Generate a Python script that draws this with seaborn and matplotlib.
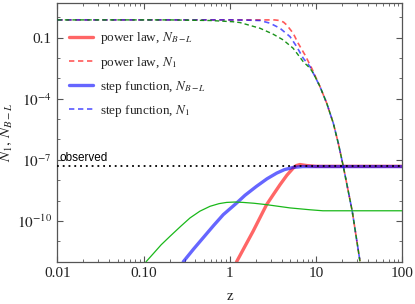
import numpy as np
import pandas as pd
import matplotlib
matplotlib.use("Agg")
import matplotlib.pyplot as plt
import seaborn as sns
from matplotlib.ticker import FixedLocator, FixedFormatter, NullFormatter

# ---------------- data ----------------
# common Boltzmann-suppressed tail of the N1 curves
z_tail = [9.3, 11.1, 13.3, 15.85, 18.1, 20.7, 26.3, 32.3]
logN_tail = [-2.75, -3.40, -4.22, -5.20, -6.18, -7.32, -9.53, -11.98]

# power law, N1 (red dashed)
z_pl_n1 = [0.01, 1.0, 3.3, 3.8, 4.2, 4.57, 5.42, 6.19, 7.44, 8.9]
logN_pl_n1 = [-0.13, -0.13, -0.13, -0.16, -0.24, -0.38, -0.78, -1.27, -1.85, -2.50]

# step function, N1 (blue dashed)
z_sf_n1 = [0.01, 1.0, 1.6, 2.24, 2.92, 3.82, 4.99, 5.96, 7.1, 8.5]
logN_sf_n1 = [-0.13, -0.13, -0.14, -0.16, -0.29, -0.54, -0.95, -1.44, -2.01, -2.42]

# third model, N1 (green dashed)
z_g_n1 = [0.01, 0.2, 0.6, 1.09, 1.31, 2.24, 3.18, 4.15, 5.42, 7.1, 8.5]
logN_g_n1 = [-0.13, -0.13, -0.16, -0.22, -0.26, -0.54, -0.83, -1.11, -1.52, -2.18, -2.50]

# power law, N_{B-L} (red solid)
z_pl_bl = [1.2, 1.5, 1.86, 2.67, 3.2, 3.82, 4.6, 5.45, 5.9, 6.5, 7.78, 10.0, 100.0]
logN_pl_bl = [-12.0, -11.24, -10.51, -9.20, -8.70, -8.22, -7.75, -7.40, -7.28, -7.23, -7.28, -7.32, -7.32]

# step function, N_{B-L} (blue solid)
z_sf_bl = [0.289, 0.38, 0.49, 0.65, 0.84, 1.2, 1.5, 2.04, 2.7, 3.5, 4.3, 5.45, 7.0, 100.0]
logN_sf_bl = [-12.0, -11.38, -10.83, -10.22, -9.69, -9.12, -8.74, -8.30, -7.93, -7.65, -7.48, -7.37, -7.33, -7.33]

# third model, N_{B-L} (green solid)
z_g_bl = [0.107, 0.13, 0.16, 0.203, 0.27, 0.346, 0.45, 0.59, 0.75, 0.916, 1.15, 1.43,
          1.9, 2.67, 3.5, 5.0, 8.47, 12.0, 100.0]
logN_g_bl = [-12.0, -11.6, -11.17, -10.75, -10.26, -9.85, -9.52, -9.28, -9.15, -9.09, -9.07, -9.09,
             -9.13, -9.20, -9.27, -9.36, -9.45, -9.50, -9.50]

observed = 10 ** -7.32

x_ticks = [0.01, 0.1, 1, 10, 100]
x_ticklabels = ["0.01", "0.10", "1", "10", "100"]
y_ticks = [1e-1, 1e-4, 1e-7, 1e-10]
y_ticklabels = ["0.1", "$10^{-4}$", "$10^{-7}$", "$10^{-10}$"]

labels = ["power law, $N_{B-L}$", "power law, $N_1$",
          "step function, $N_{B-L}$", "step function, $N_1$"]

# ---------------- style ----------------
sns.set_style("ticks")
plt.rcParams["font.family"] = ["Liberation Serif", "DejaVu Serif"]
plt.rcParams["mathtext.fontset"] = "stix"

fig = plt.figure(figsize=(4.15, 3.04), dpi=100)
ax = fig.add_axes([57.3 / 415, 1 - 261.7 / 304, (402.3 - 57.3) / 415, (261.7 - 3) / 304])
ax.set_xscale("log")
ax.set_yscale("log")

def curve(z, logn):
    return pd.DataFrame({"z": z, "N": np.power(10.0, logn)})

red = (1.0, 0.0, 0.0)
blue = (0.0, 0.0, 1.0)
green_solid = (0.1, 0.72, 0.1)
green_dash = (0.05, 0.55, 0.05)
dash = (0, (3.2, 2.2))

def draw(df, color, lw, ls, alpha, label=None, zorder=2):
    sns.lineplot(data=df, x="z", y="N", ax=ax, color=color, lw=lw, linestyle=ls,
                 alpha=alpha, label=label, sort=False, estimator=None, zorder=zorder)

pl_n1 = curve(z_pl_n1 + z_tail[1:], logN_pl_n1 + logN_tail[1:])
sf_n1 = curve(z_sf_n1 + z_tail, logN_sf_n1 + logN_tail)
g_n1 = curve(z_g_n1 + z_tail, logN_g_n1 + logN_tail)

draw(curve(z_pl_bl, logN_pl_bl), red, 2.4, "-", 0.6, labels[0], 2)
draw(pl_n1, red, 1.2, dash, 0.65, labels[1], 3)
draw(curve(z_sf_bl, logN_sf_bl), blue, 2.4, "-", 0.6, labels[2], 2)
draw(sf_n1, blue, 1.2, dash, 0.65, labels[3], 3)
draw(g_n1, green_dash, 1.0, dash, 0.95, None, 4)
draw(curve(z_g_bl, logN_g_bl), green_solid, 0.9, "-", 1.0, None, 4)

ax.axhline(observed, color="black", lw=1.3, linestyle=(0, (1, 2.2)), zorder=5)
ax.text(0.0105, observed * 1.32, "observed", family=["Liberation Sans", "DejaVu Sans"],
        fontsize=8.5, color="black", va="bottom", ha="left")

ax.set_xlim(0.01, 100)
ax.set_ylim(1e-12, 10 ** 0.7)

ax.xaxis.set_major_locator(FixedLocator(x_ticks))
ax.xaxis.set_major_formatter(FixedFormatter(x_ticklabels))
ax.yaxis.set_major_locator(FixedLocator(y_ticks))
ax.yaxis.set_major_formatter(FixedFormatter(y_ticklabels))
ax.yaxis.set_minor_locator(FixedLocator([10.0 ** k for k in range(-12, 1)]))
ax.yaxis.set_minor_formatter(NullFormatter())
ax.xaxis.set_minor_formatter(NullFormatter())

frame = "#555555"
for s in ax.spines.values():
    s.set_color(frame)
    s.set_linewidth(0.9)
ax.tick_params(which="both", direction="in", top=True, right=True, colors=frame,
               labelcolor="#222222", labelsize=11)
ax.tick_params(which="major", length=4.5, width=0.8, pad=4)
ax.tick_params(which="minor", length=2.5, width=0.6)

ax.set_xlabel("z", fontsize=11, labelpad=7)
ax.set_ylabel(r"$N_1,\,N_{B-L}$", fontsize=11, labelpad=2)

leg = ax.legend(loc="upper left", bbox_to_anchor=(0.0, 0.94), frameon=False, fontsize=9.5,
                handlelength=1.8, handletextpad=0.55, labelspacing=0.62, borderaxespad=0.5)

fig.savefig("out.png", dpi=100)
